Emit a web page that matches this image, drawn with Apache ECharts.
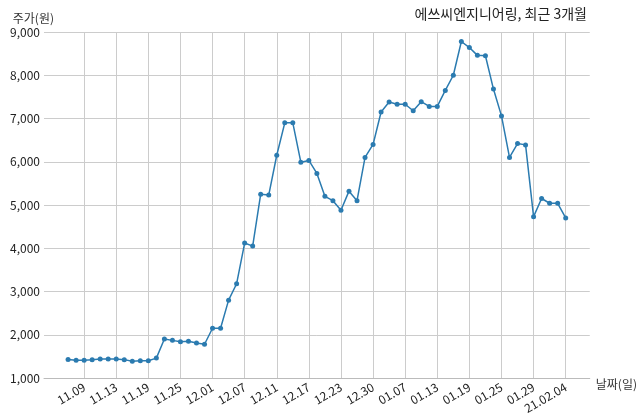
<!DOCTYPE html><html><head><meta charset="utf-8"><script src="https://cdn.jsdelivr.net/npm/echarts@6/dist/echarts.min.js"></script>
<style>body{margin:0}#c{width:640px;height:419px}</style></head><body><div id="c"></div><script>
const dates=['11.05','11.06','11.09','11.10','11.11','11.12','11.13','11.16','11.17','11.18','11.19','11.20','11.23','11.24','11.25','11.26','11.27','11.30','12.01','12.02','12.03','12.04','12.07','12.08','12.09','12.10','12.11','12.14','12.15','12.16','12.17','12.18','12.21','12.22','12.23','12.24','12.28','12.29','12.30','01.04','01.05','01.06','01.07','01.08','01.11','01.12','01.13','01.14','01.15','01.18','01.19','01.20','01.21','01.22','01.25','01.26','01.27','01.28','01.29','02.01','02.02','02.03','21.02.04'];
const prices=[1430,1410,1410,1420,1440,1440,1440,1420,1390,1400,1400,1460,1900,1870,1840,1850,1810,1780,2150,2150,2800,3180,4120,4050,5250,5230,6150,6900,6900,5990,6030,5730,5200,5100,4880,5320,5100,6100,6400,7150,7380,7330,7330,7180,7390,7280,7280,7650,8000,8780,8640,8460,8450,7680,7060,6100,6420,6390,4730,5150,5040,5040,4700];
const PAD=3;
const cats=[...Array(PAD).fill(''),...dates,...Array(PAD).fill('')].map((d,i)=>d||(' '.repeat(i+1)));
const vals=[...Array(PAD).fill(null),...prices,...Array(PAD).fill(null)];
const show=i=>i>=PAD&&i<PAD+dates.length&&(i-PAD)%4===2;
const F='"Noto Sans CJK KR","Noto Sans",sans-serif';
const ch=echarts.init(document.getElementById('c'));
ch.setOption({animation:false,
title:{text:'에쓰씨엔지니어링, 최근 3개월',right:48,top:2,textStyle:{fontSize:14,fontWeight:'normal',color:'#222',fontFamily:F}},
grid:{left:44,right:48,top:32,bottom:41},
xAxis:{type:'category',data:cats,boundaryGap:false,name:'날짜(일)',nameGap:6,nameTextStyle:{color:'#333',fontFamily:F,fontSize:12,verticalAlign:'top'},
axisLine:{lineStyle:{color:'#bbb'}},axisTick:{show:false},
axisLabel:{interval:show,rotate:30,color:'#222',fontSize:12,fontFamily:F,margin:8},
splitLine:{show:true,interval:show,lineStyle:{color:'#ccc'}}},
yAxis:{type:'value',min:1000,max:9000,interval:1000,name:'주가(원)',nameGap:8,nameTextStyle:{color:'#333',fontFamily:F,fontSize:12,align:'right',padding:[0,-10,0,0]},
axisLabel:{formatter:v=>v.toLocaleString('en-US'),color:'#222',fontSize:12,fontFamily:F,margin:4},
axisLine:{show:false},axisTick:{show:false},splitLine:{lineStyle:{color:'#ccc'}}},
series:[{type:'line',data:vals,symbol:'circle',symbolSize:5,itemStyle:{color:'#2b7bb0'},lineStyle:{color:'#2b7bb0',width:1.5}}]});
</script></body></html>
